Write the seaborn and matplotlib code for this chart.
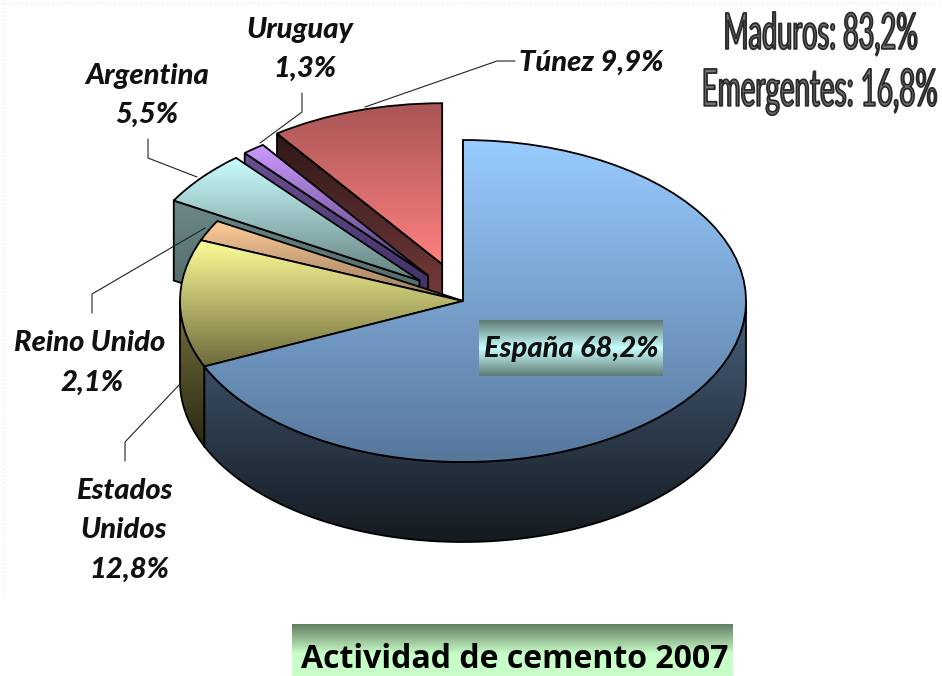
import numpy as np
import matplotlib
matplotlib.use("Agg")
import matplotlib.pyplot as plt
import matplotlib.patheffects as pe
from matplotlib.colors import LinearSegmentedColormap
from matplotlib.patches import Polygon
from matplotlib.transforms import Affine2D
import seaborn as sns

# Data
paises = ["España", "Estados Unidos", "Reino Unido", "Argentina", "Uruguay", "Túnez"]
valores = [68.2, 12.8, 2.1, 5.5, 1.3, 9.9]
separacion = [0, 0, 0, 0.2, 0.2, 0.24]
resumen = ["Maduros: 83,2%", "Emergentes: 16,8%"]
titulo = "Actividad de cemento 2007"

# top face colours (top of slice, bottom of slice)
caras = ["#99ccff", "#ffff99", "#ffcc99", "#ccffff", "#cc99ff", "#a85555"]
caras_fin = ["#56769b", "#6e6a3c", "#94785a", "#648080", "#4c3a72", "#ff8080"]
# side wall colours
lados = ["#47607c", "#77733f", "#8a6f55", "#6c8888", "#6a5090", "#2e1717"]
lados_fin = ["#141a20", "#2b2812", "#332a1e", "#405555", "#2e2350", "#8a4545"]

CX, CY, RX, RY, DEPTH = 463, 301, 283, 161, 80

sns.set_theme(style="white")
plt.rcParams["font.family"] = ["Lato", "DejaVu Sans"]

fig = plt.figure(figsize=(9.42, 6.76), dpi=100)
ax = fig.add_axes([0, 0, 1, 1])

wedges, _ = ax.pie(valores, explode=separacion, startangle=90, counterclock=False,
                   radius=1, center=(0, 0), frame=False)
ax.set_aspect("auto")
ax.set_xlim(0, 942)
ax.set_ylim(676, 0)
ax.axis("off")

to_px = Affine2D().scale(RX, -RY).translate(CX, CY)


def fill(path_patch, c0, c1, y0, y1, z, c2=None):
    # vertical gradient clipped to the patch
    colors = [c0, c1] if c2 is None else [c0, c1, c2]
    cmap = LinearSegmentedColormap.from_list("g", colors)
    grad = np.linspace(0, 1, 256).reshape(-1, 1)
    im = ax.imshow(grad, extent=(0, 942, y1, y0), cmap=cmap, aspect="auto",
                   zorder=z, interpolation="bilinear")
    im.set_clip_path(path_patch)


def arc(w, a, b):
    t = np.radians(np.linspace(a, b, 80))
    x = w.center[0] + w.r * np.cos(t)
    y = w.center[1] + w.r * np.sin(t)
    return to_px.transform(np.column_stack([x, y]))


def poly(pts, c0, c1, z):
    p = Polygon(pts, closed=True, facecolor="none", edgecolor="black", lw=1.3,
                transform=ax.transData, zorder=z + 0.1)
    ax.add_patch(p)
    fill(p, c0, c1, pts[:, 1].min(), pts[:, 1].max(), z)


# back slices first so the front ones cover them
for i in [5, 4, 3, 2, 1, 0]:
    w = wedges[i]
    z = 10 + (5 - i) * 3
    w.set_transform(to_px + ax.transData)
    w.set(facecolor="none", edgecolor="black", linewidth=1.3, zorder=z + 2.1)

    # cut face on the left side of the slice
    p0 = to_px.transform([w.center])[0]
    p1 = arc(w, w.theta2, w.theta2)[0]
    cut = np.array([p0, p1, p1 + [0, DEPTH], p0 + [0, DEPTH]])
    poly(cut, lados[i], lados_fin[i], z)

    # outer wall, only the part that faces the viewer
    a = max(w.theta1, -180)
    b = min(w.theta2, 0)
    if b > a:
        top = arc(w, a, b)
        wall = np.vstack([top, top[::-1] + [0, DEPTH]])
        poly(wall, lados[i], lados_fin[i], z + 1)

    verts = to_px.transform(w.get_path().vertices)
    fill(w, caras[i], caras_fin[i], verts[:, 1].min(), verts[:, 1].max(), z + 2)

# labels
label_kw = dict(fontsize=21, fontweight=900, fontstyle="italic", color="#111111",
                ha="center", va="center", zorder=60)
ax.text(147, 76, "Argentina", **label_kw)
ax.text(147, 115, "5,5%", **label_kw)
ax.text(300, 30, "Uruguay", **label_kw)
ax.text(305, 69, "1,3%", **label_kw)
ax.text(591, 63, "Túnez 9,9%", **label_kw)
ax.text(90, 343, "Reino Unido", **label_kw)
ax.text(92, 383, "2,1%", **label_kw)
ax.text(124, 491, "Estados", **label_kw)
ax.text(124, 530, "Unidos", **label_kw)
ax.text(129, 570, "12,8%", **label_kw)

# leader lines
guias = [
    ([515, 497, 365], [61, 61, 107]),
    ([302, 302, 260], [93, 112, 143]),
    ([148, 148, 197], [139, 158, 177]),
    ([92, 92, 205], [313, 294, 228]),
    ([125, 125, 180], [461, 442, 384]),
]
for gx, gy in guias:
    ax.plot(gx, gy, color="#222222", lw=0.8, zorder=50)

# gradient boxes behind España label and title
box = Polygon([[479, 320], [663, 320], [663, 376], [479, 376]], closed=True,
              facecolor="none", edgecolor="none", transform=ax.transData)
ax.add_patch(box)
fill(box, "#5f7a74", "#c8ffff", 320, 376, 40, c2="#5f7a74")
ax.text(571, 349, "España 68,2%", **label_kw)

box2 = Polygon([[292, 624], [733, 624], [733, 676], [292, 676]], closed=True,
               facecolor="none", edgecolor="none", transform=ax.transData)
ax.add_patch(box2)
fill(box2, "#647d64", "#c8ffc8", 624, 654, 40)
ax.fill_between([292, 733], 654, 676, color="#c8ffc8", lw=0, zorder=39)
ax.text(515, 660, titulo, fontsize=23, fontweight="bold", family="Open Sans",
        color="black", ha="center", va="center", zorder=60)


class Stretch(pe.AbstractPathEffect):
    # makes the text taller around its middle and gives it a dark outline
    def __init__(self, sy, cy, lw, edge):
        super().__init__()
        self.sy, self.cy, self.lw, self.edge = sy, cy, lw, edge

    def draw_path(self, renderer, gc, tpath, affine, rgbFace):
        gc0 = renderer.new_gc()
        gc0.copy_properties(gc)
        gc0.set_linewidth(self.lw)
        gc0.set_foreground(self.edge)
        t = affine + Affine2D().translate(0, -self.cy).scale(1, self.sy).translate(0, self.cy)
        renderer.draw_path(gc0, tpath, t, rgbFace)
        gc0.restore()


ax.text(821, 35, resumen[0], fontsize=19.5, color="#747474", ha="center", va="center", zorder=60,
        path_effects=[Stretch(1.85, 676 - 35, 1.3, "#2a2a2a")])
ax.text(820, 91, resumen[1], fontsize=20, color="#747474", ha="center", va="center", zorder=60,
        path_effects=[Stretch(1.85, 676 - 91, 1.3, "#2a2a2a")])

# faint dotted page edge
ax.plot([0, 942], [3, 3], color="#f3e6e6", lw=1, ls=":", zorder=1)
ax.plot([3, 3], [0, 600], color="#f3e6e6", lw=1, ls=":", zorder=1)

ax.set_xlim(0, 942)
ax.set_ylim(676, 0)
fig.savefig("out.png", dpi=100)
